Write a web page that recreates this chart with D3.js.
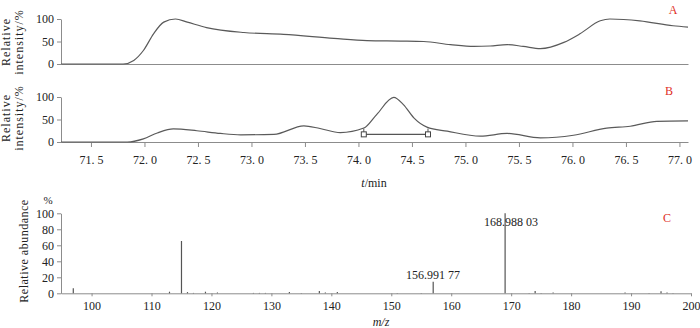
<!DOCTYPE html>
<html>
<head>
<meta charset="utf-8">
<script src="https://cdn.jsdelivr.net/npm/d3@7"></script>
<style>
  body { margin: 0; background: #fff; }
  svg { display: block; font-family: "Liberation Serif", "DejaVu Serif", serif; }
  .axis path, .axis line { stroke: #8c8c8c; }
  .axis text { fill: #222; font-size: 12px; font-family: "Liberation Serif", serif; }
</style>
</head>
<body>
<svg id="chart" width="700" height="328"></svg>
<script>
// panel A chromatogram (time in min, relative intensity %)
const timeA = [71.22, 71.80, 71.90, 71.99, 72.085, 72.18, 72.29, 72.40, 72.58, 72.93, 73.30, 73.77, 74.08, 74.39, 74.61, 74.86, 75.08, 75.23, 75.39, 75.54, 75.70, 75.92, 76.07, 76.26, 76.35, 76.63, 76.94, 77.08];
const intA = [0, 0, 8, 30, 67, 93, 100, 93, 81, 70, 66, 57, 52, 51, 50, 43, 39, 40, 43, 39, 34, 48, 67, 96, 100, 96, 85, 82];

// panel B chromatogram
const timeB = [71.22, 71.84, 71.99, 72.12, 72.27, 72.49, 72.71, 72.90, 73.21, 73.49, 73.64, 73.83, 74.05, 74.17, 74.33, 74.42, 74.52, 74.64, 74.83, 75.14, 75.39, 75.70, 76.01, 76.32, 76.54, 76.79, 77.08];
const intB = [0, 0, 7, 20, 29, 25, 19, 16, 17, 36, 30, 21, 31, 61, 99, 83, 53, 33, 24, 13, 19, 9, 15, 31, 35, 46, 47];

// integration bracket in panel B
const bracketTimes = [74.05, 74.65];
const bracketLevel = 17;

// panel C mass spectrum (m/z, relative abundance %)
const mzC = [96.95, 113, 115, 116, 117, 119, 121, 127, 128, 129, 133, 135, 138, 139, 141, 151, 155, 156.99177, 168.98803, 173, 174, 175, 177, 189, 193, 195, 196, 197];
const abC = [6.3, 2, 65.4, 1.5, 0.5, 2, 1, 0.5, 0.5, 0.5, 1.5, 0.5, 3, 1, 1.5, 0.5, 0.5, 14.5, 100, 0.5, 3, 0.5, 1, 1, 0.5, 2.5, 1, 0.5];

const timeTicks = [71.5, 72.0, 72.5, 73.0, 73.5, 74.0, 74.5, 75.0, 75.5, 76.0, 76.5, 77.0];
const intTicks = [0, 50, 100];
const mzTicks = [100, 110, 120, 130, 140, 150, 160, 170, 180, 190, 200];
const abTicks = [0, 20, 40, 60, 80, 100];
const peakLabels = [
  { mz: 156.99177, text: "156.991 77" },
  { mz: 168.98803, text: "168.988 03" }
];

let svg = d3.select("#chart");

let xT = d3.scaleLinear().domain([71.22, 77.08]).range([61, 688]);
let yA = d3.scaleLinear().domain([0, 100]).range([64, 19]);
let yB = d3.scaleLinear().domain([0, 100]).range([142, 97]);
let xC = d3.scaleLinear().domain([94.9, 200]).range([61, 691]);
let yC = d3.scaleLinear().domain([0, 100]).range([293.3, 213.3]);

function yTitle(cx, cy, lines, spacing) {
  let t = svg.append("text")
    .attr("transform", "translate(" + cx + "," + cy + ") rotate(-90)")
    .attr("text-anchor", "middle")
    .attr("font-size", "12px")
    .attr("letter-spacing", spacing)
    .attr("fill", "#222");
  lines.forEach((l, i) => {
    t.append("tspan").attr("x", 0).attr("dy", i === 0 ? 0 : 13).text(l);
  });
}

// ---- panel A
svg.append("g").attr("class", "axis")
  .attr("transform", "translate(61,0)")
  .call(d3.axisLeft(yA).tickValues(intTicks).tickSize(4).tickSizeOuter(0).tickPadding(3));
svg.append("g").attr("class", "axis")
  .attr("transform", "translate(0," + yA(0) + ")")
  .call(d3.axisBottom(xT).tickValues([]).tickSizeOuter(0));

let lineA = d3.line().x((d, i) => xT(timeA[i])).y(d => yA(d)).curve(d3.curveMonotoneX);
svg.append("path").datum(intA)
  .attr("d", lineA).attr("fill", "none").attr("stroke", "#5a5a5a").attr("stroke-width", 1.2);

// ---- panel B
svg.append("g").attr("class", "axis")
  .attr("transform", "translate(61,0)")
  .call(d3.axisLeft(yB).tickValues(intTicks).tickSize(4).tickSizeOuter(0).tickPadding(3));
svg.append("g").attr("class", "axis")
  .attr("transform", "translate(0," + yB(0) + ")")
  .call(d3.axisBottom(xT).tickValues(timeTicks)
    .tickFormat(d => d3.format(".1f")(d).replace(".", ". "))
    .tickSize(5).tickSizeOuter(0).tickPadding(8));

let lineB = d3.line().x((d, i) => xT(timeB[i])).y(d => yB(d)).curve(d3.curveMonotoneX);
svg.append("path").datum(intB)
  .attr("d", lineB).attr("fill", "none").attr("stroke", "#5a5a5a").attr("stroke-width", 1.2);

// bracket
svg.append("line")
  .attr("x1", xT(bracketTimes[0])).attr("x2", xT(bracketTimes[1]))
  .attr("y1", yB(bracketLevel)).attr("y2", yB(bracketLevel))
  .attr("stroke", "#555").attr("stroke-width", 1.2);
bracketTimes.forEach(t => {
  svg.append("line")
    .attr("x1", xT(t)).attr("x2", xT(t))
    .attr("y1", yB(bracketLevel + 13)).attr("y2", yB(bracketLevel))
    .attr("stroke", "#555").attr("stroke-width", 1);
  svg.append("rect")
    .attr("x", xT(t) - 2.5).attr("y", yB(bracketLevel) - 2.5)
    .attr("width", 5).attr("height", 5)
    .attr("fill", "#fff").attr("stroke", "#444").attr("stroke-width", 1);
});

yTitle(10, 42, ["Relative", "intensity/%"], 1);
yTitle(10, 118, ["Relative", "intensity/%"], 1);

svg.append("text").attr("x", 374).attr("y", 187).attr("text-anchor", "middle")
  .attr("font-size", "12px").attr("fill", "#222")
  .html('<tspan font-style="italic">t</tspan>/min');

svg.append("text").attr("x", 673).attr("y", 14).attr("text-anchor", "middle")
  .attr("font-size", "12px").attr("fill", "#e0301e").text("A");
svg.append("text").attr("x", 669).attr("y", 95).attr("text-anchor", "middle")
  .attr("font-size", "12px").attr("fill", "#e0301e").text("B");

// ---- panel C
svg.append("g").attr("class", "axis")
  .attr("transform", "translate(61,0)")
  .call(d3.axisLeft(yC).tickValues(abTicks).tickSize(4).tickSizeOuter(0).tickPadding(3));
svg.append("g").attr("class", "axis")
  .attr("transform", "translate(0," + yC(0) + ")")
  .call(d3.axisBottom(xC).tickValues(mzTicks).tickSize(3).tickSizeOuter(0).tickPadding(5));

svg.selectAll(".peak")
  .data(mzC)
  .enter()
  .append("line")
  .attr("class", "peak")
  .attr("x1", d => xC(d)).attr("x2", d => xC(d))
  .attr("y1", yC(0))
  .attr("y2", (d, i) => yC(abC[i]))
  .attr("stroke", "#555").attr("stroke-width", 1.2);

svg.append("text").attr("x", 433).attr("y", 279).attr("text-anchor", "middle")
  .attr("font-size", "12px").attr("fill", "#222").text(peakLabels[0].text);
svg.append("text").attr("x", 511).attr("y", 226).attr("text-anchor", "middle")
  .attr("font-size", "12px").attr("fill", "#222").text(peakLabels[1].text);

svg.append("text").attr("x", 48).attr("y", 204).attr("text-anchor", "middle")
  .attr("font-size", "11px").attr("fill", "#222").text("%");
yTitle(28, 251, ["Relative abundance"], 0.5);

svg.append("text").attr("x", 381).attr("y", 326).attr("text-anchor", "middle")
  .attr("font-size", "12px").attr("fill", "#222").attr("font-style", "italic").text("m/z");

svg.append("text").attr("x", 667).attr("y", 222).attr("text-anchor", "middle")
  .attr("font-size", "12px").attr("fill", "#e0301e").text("C");
</script>
</body>
</html>
